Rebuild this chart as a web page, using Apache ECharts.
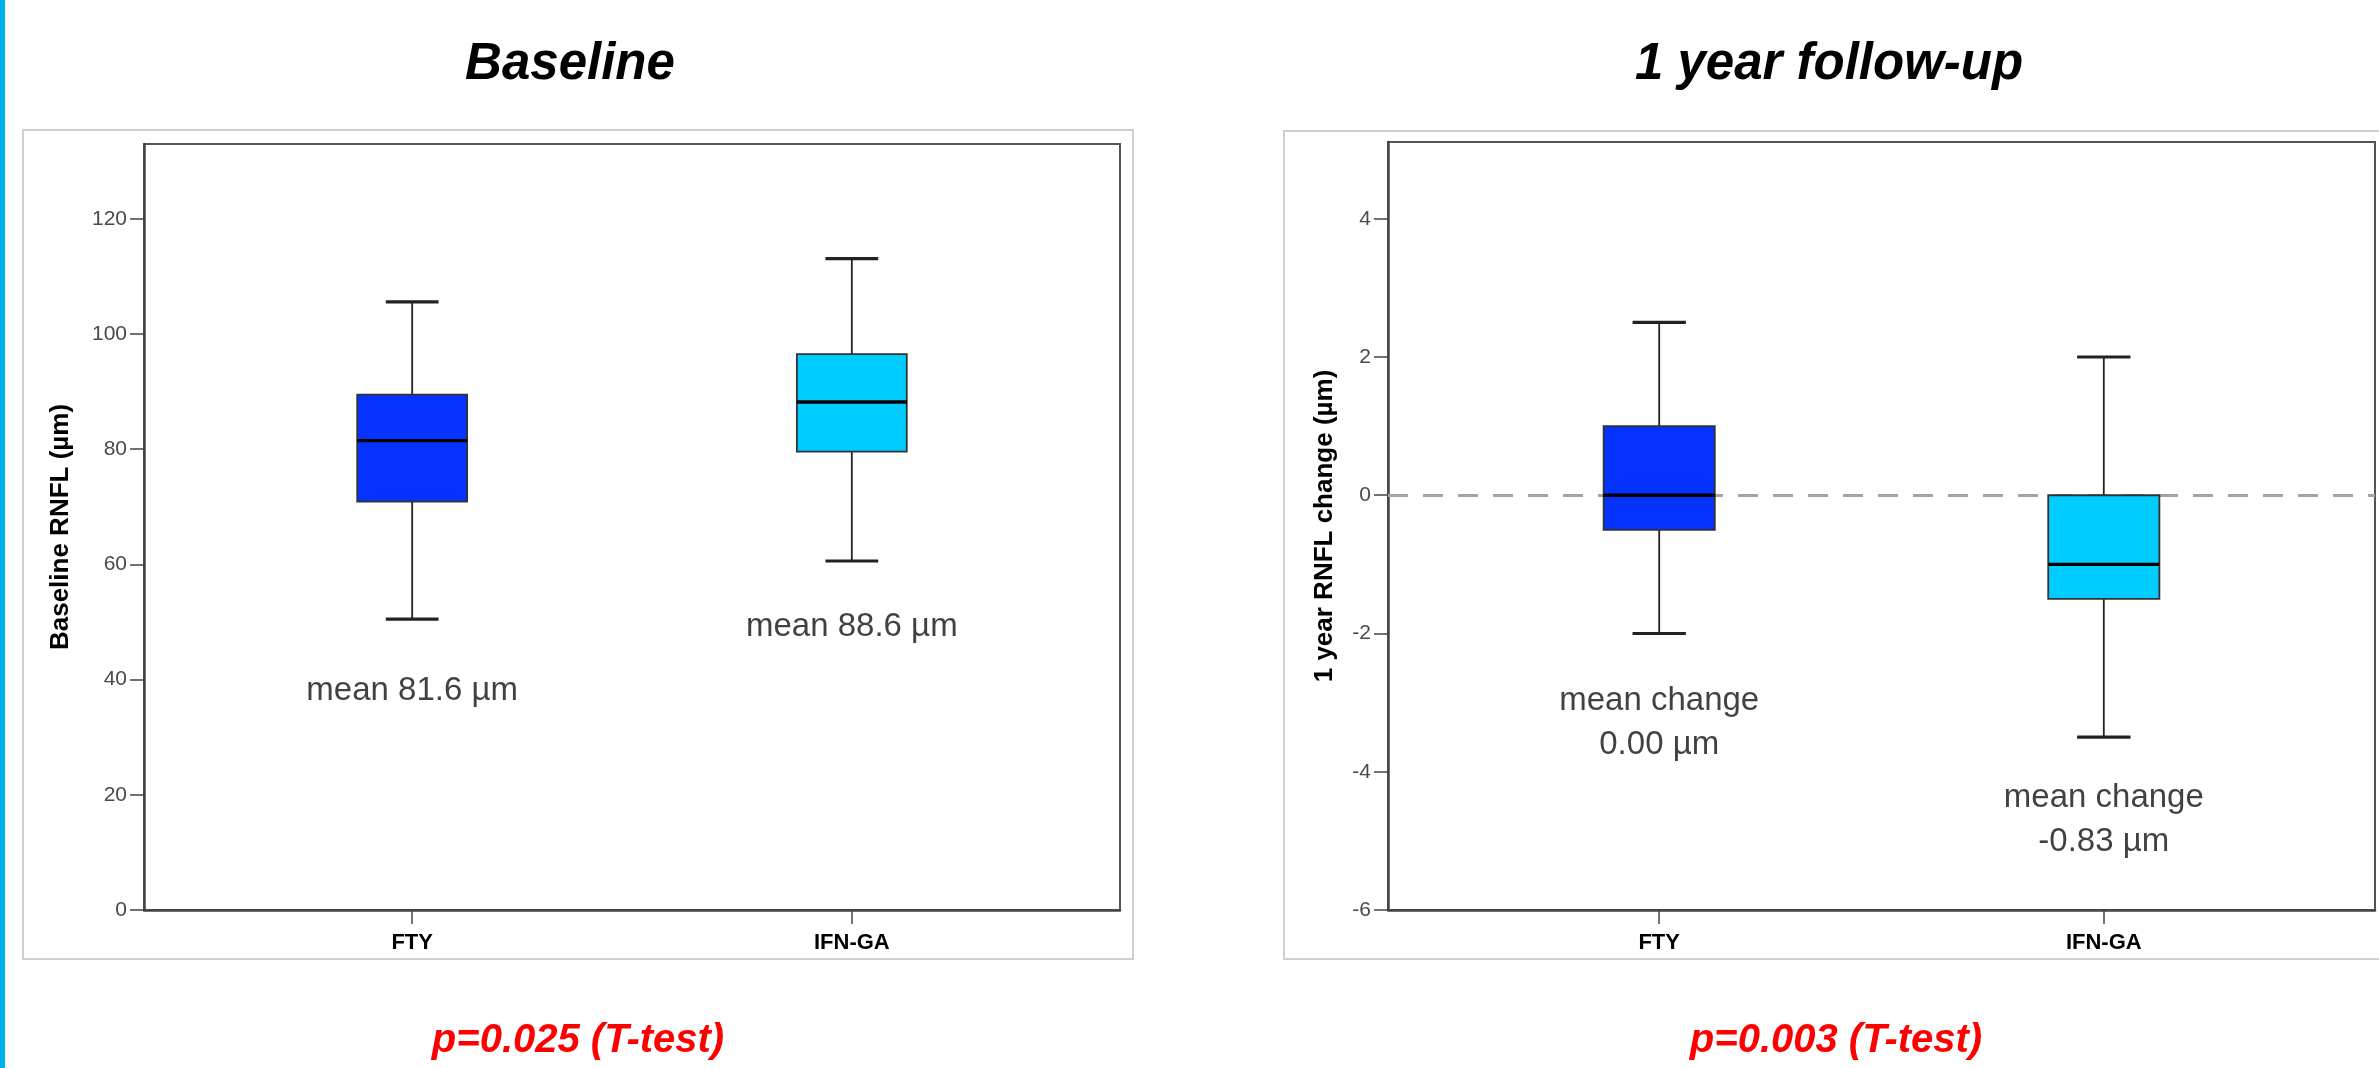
<!DOCTYPE html>
<html>
<head>
<meta charset="utf-8">
<script src="https://cdn.jsdelivr.net/npm/echarts@6/dist/echarts.min.js"></script>
<style>
html,body{margin:0;padding:0;background:#fff;}
#chart{width:2379px;height:1068px;}
</style>
</head>
<body>
<div id="chart"></div>
<script>
// ---------- data ----------
const categories = ['FTY', 'IFN-GA'];
// [min whisker, Q1, median, Q3, max whisker]
const baselineBox = [
  [50.5, 70.9, 81.5, 89.5, 105.6],
  [60.6, 79.6, 88.2, 96.5, 113.1]
];
const changeBox = [
  [-2.0, -0.5, 0.0, 1.0, 2.5],
  [-3.5, -1.5, -1.0, 0.0, 2.0]
];
const baselineMeans = [81.6, 88.6];
const changeMeans = [0.00, -0.83];
const baselineTicks = [0, 20, 40, 60, 80, 100, 120];
const changeTicks = [-6, -4, -2, 0, 2, 4];
const panelTitles = ['Baseline', '1 year follow-up'];
const axisNames = ['Baseline RNFL (\u00b5m)', '1 year RNFL change (\u00b5m)'];
const pValues = ['p=0.025 (T-test)', 'p=0.003 (T-test)'];

// ---------- layout / style ----------
const boxColors = ['#0433FF', '#00CCFF'];
const baselineLabelY = [38.1, 49.1];
const changeLabelY = [-3.29, -4.70];
const BOX_W = 0.25, CAP_W = 0.12;
const FONT = "'Liberation Sans', Arial, sans-serif";

function boxRender(params, api) {
  const x = api.value(0);
  const lo = api.coord([x, api.value(1)]);
  const q1 = api.coord([x, api.value(2)]);
  const md = api.coord([x, api.value(3)]);
  const q3 = api.coord([x, api.value(4)]);
  const hi = api.coord([x, api.value(5)]);
  const bw = api.size([BOX_W, 0])[0];
  const cw = api.size([CAP_W, 0])[0];
  const cx = md[0];
  const stroke = '#222';
  return {
    type: 'group',
    children: [
      {type: 'line', shape: {x1: cx, y1: hi[1], x2: cx, y2: q3[1]}, style: {stroke: stroke, lineWidth: 1.8}},
      {type: 'line', shape: {x1: cx, y1: q1[1], x2: cx, y2: lo[1]}, style: {stroke: stroke, lineWidth: 1.8}},
      {type: 'line', shape: {x1: cx - cw / 2, y1: hi[1], x2: cx + cw / 2, y2: hi[1]}, style: {stroke: stroke, lineWidth: 3.2}},
      {type: 'line', shape: {x1: cx - cw / 2, y1: lo[1], x2: cx + cw / 2, y2: lo[1]}, style: {stroke: stroke, lineWidth: 3.2}},
      {type: 'rect', shape: {x: cx - bw / 2, y: q3[1], width: bw, height: q1[1] - q3[1]},
        style: {fill: boxColors[Math.round(x)], stroke: '#333', lineWidth: 1.8}},
      {type: 'line', shape: {x1: cx - bw / 2, y1: md[1], x2: cx + bw / 2, y2: md[1]}, style: {stroke: '#000', lineWidth: 3.4}}
    ]
  };
}

function xAxisCfg(gi) {
  return {
    type: 'value', gridIndex: gi, min: -0.61, max: 1.61,
    axisLine: {show: true, onZero: false, lineStyle: {color: '#444', width: 2.5}},
    axisTick: {show: true, customValues: [0, 1], length: 14, lineStyle: {color: '#444', width: 1.5}},
    axisLabel: {customValues: [0, 1], formatter: v => categories[Math.round(v)] || '',
      color: '#000', fontFamily: FONT, fontWeight: 'bold', fontSize: 22, margin: 22},
    splitLine: {show: false}
  };
}
function yAxisCfg(gi, min, max, ticks, name, gap) {
  return {
    type: 'value', gridIndex: gi, min: min, max: max,
    name: name, nameLocation: 'middle', nameGap: gap,
    nameTextStyle: {fontFamily: FONT, fontWeight: 'bold', fontSize: 26, color: '#000'},
    axisLine: {show: true, onZero: false, lineStyle: {color: '#444', width: 2.5}},
    axisTick: {show: true, customValues: ticks, length: 14, lineStyle: {color: '#444', width: 1.5}},
    axisLabel: {customValues: ticks, color: '#4a4a4a', fontFamily: FONT, fontSize: 21, margin: 17},
    splitLine: {show: false}
  };
}

const baselineData = baselineBox.map((b, i) => [i].concat(b));
const changeData = changeBox.map((b, i) => [i].concat(b));

const annoLabel = {
  show: true, position: 'inside', color: '#111', fontFamily: FONT, fontSize: 33, lineHeight: 44, align: 'center'
};

const option = {
  animation: false,
  backgroundColor: '#fff',
  graphic: [
    {type: 'rect', shape: {x: 0, y: 0, width: 5, height: 1068}, style: {fill: '#00B0F0'}, silent: true},
    {type: 'rect', shape: {x: 23, y: 130, width: 1110, height: 829}, style: {fill: 'none', stroke: '#cfcfcf', lineWidth: 2}, silent: true, z: -1},
    {type: 'rect', shape: {x: 1284, y: 131, width: 1200, height: 828}, style: {fill: 'none', stroke: '#cfcfcf', lineWidth: 2}, silent: true, z: -1},
    {type: 'text', x: 570, y: 65, style: {text: panelTitles[0], font: "italic bold 51px 'Liberation Sans', Arial, sans-serif",
      fill: '#000', align: 'center', verticalAlign: 'middle', textAlign: 'center', textVerticalAlign: 'middle'}},
    {type: 'text', x: 1829, y: 65, style: {text: panelTitles[1], font: "italic bold 51px 'Liberation Sans', Arial, sans-serif",
      fill: '#000', align: 'center', verticalAlign: 'middle', textAlign: 'center', textVerticalAlign: 'middle'}},
    {type: 'text', x: 578, y: 1041, style: {text: pValues[0], font: "italic bold 40px 'Liberation Sans', Arial, sans-serif",
      fill: '#FF0000', align: 'center', verticalAlign: 'middle', textAlign: 'center', textVerticalAlign: 'middle'}},
    {type: 'text', x: 1836, y: 1041, style: {text: pValues[1], font: "italic bold 40px 'Liberation Sans', Arial, sans-serif",
      fill: '#FF0000', align: 'center', verticalAlign: 'middle', textAlign: 'center', textVerticalAlign: 'middle'}}
  ],
  grid: [
    {left: 144, top: 144, width: 976, height: 766, show: true, borderColor: '#555', borderWidth: 2, backgroundColor: '#fff'},
    {left: 1388, top: 142, width: 987, height: 768, show: true, borderColor: '#555', borderWidth: 2, backgroundColor: '#fff'}
  ],
  xAxis: [xAxisCfg(0), xAxisCfg(1)],
  yAxis: [
    yAxisCfg(0, 0, 133, baselineTicks, axisNames[0], 70),
    yAxisCfg(1, -6, 5.11, changeTicks, axisNames[1], 50)
  ],
  series: [
    {
      type: 'scatter', xAxisIndex: 0, yAxisIndex: 0, symbolSize: 0, z: 1, silent: true,
      data: baselineLabelY.map((y, i) => [i, y]),
      label: Object.assign({}, annoLabel, {formatter: p => 'mean ' + baselineMeans[p.dataIndex].toFixed(1) + ' \u00b5m'})
    },
    {
      type: 'scatter', xAxisIndex: 1, yAxisIndex: 1, symbolSize: 0, z: 1, silent: true,
      data: changeLabelY.map((y, i) => [i, y]),
      label: Object.assign({}, annoLabel, {formatter: p => 'mean change\n' + changeMeans[p.dataIndex].toFixed(2) + ' \u00b5m'}),
      markLine: {
        silent: true, symbol: 'none', z: 1,
        label: {show: false},
        lineStyle: {color: '#a3a3a3', width: 3, type: [20, 15]},
        data: [{yAxis: 0}]
      }
    },
    {
      type: 'custom', xAxisIndex: 0, yAxisIndex: 0, z: 3, renderItem: boxRender,
      encode: {x: 0, y: [1, 2, 3, 4, 5]}, data: baselineData
    },
    {
      type: 'custom', xAxisIndex: 1, yAxisIndex: 1, z: 3, renderItem: boxRender,
      encode: {x: 0, y: [1, 2, 3, 4, 5]}, data: changeData
    }
  ]
};

const chart = echarts.init(document.getElementById('chart'), null, {renderer: 'canvas'});
chart.setOption(option);
</script>
</body>
</html>
